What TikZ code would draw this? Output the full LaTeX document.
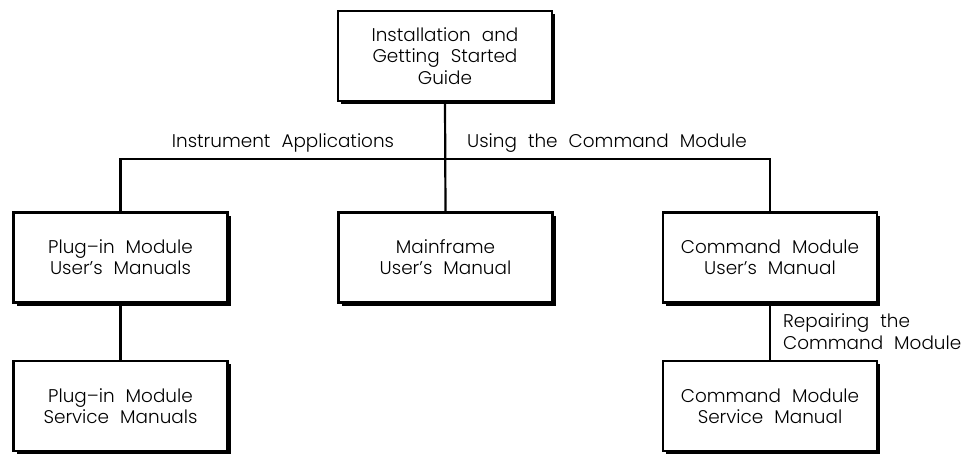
\documentclass[tikz,border=0pt]{standalone}
\usepackage{fontspec}
\setmainfont{Poppins}[UprightFont=* Light]
\usetikzlibrary{shadows}

\newcommand\docfont{\fontsize{9.2}{10.6}\selectfont\spaceskip=0.6em plus 0.1em\relax}

\tikzset{
  manual/.style={draw,fill=white,line width=1.3pt,align=center,
    minimum width=107pt,minimum height=45pt,inner sep=0pt,
    drop shadow={shadow xshift=1.6pt,shadow yshift=-1.6pt,fill=black,opacity=1}},
  wire/.style={line width=1.1pt},
  lbl/.style={inner sep=0pt,align=left}
}

\begin{document}
\begin{tikzpicture}[x=0.5pt,y=-0.5pt,font=\docfont]
  \useasboundingbox (0,0) rectangle (969,455);

  % ===== TOP =====
  \node[manual] (guide) at (445,56) {Installation and\\Getting Started\\Guide};

  % ===== USER MANUALS =====
  \node[manual] (plugusr) at (120.5,257.5) {Plug--in Module\\User's Manuals};
  \node[manual] (mainfr)  at (445.5,257.5) {Mainframe\\User's Manual};
  \node[manual] (cmdusr)  at (770,257.5)   {Command Module\\User's Manual};

  % ===== SERVICE MANUALS =====
  \node[manual] (plugsvc) at (120.5,406) {Plug--in Module\\Service Manuals};
  \node[manual] (cmdsvc)  at (770,406)   {Command Module\\Service Manual};

  % bus under the guide
  \coordinate (bus) at (445.5,159);
  \draw[wire] (guide.south) -- (mainfr.north);
  \draw[wire] (plugusr.north) -- (plugusr.north |- bus)
              -- (cmdusr.north |- bus) -- (cmdusr.north);
  \node[lbl,anchor=base] (instapp) at (283,147) {Instrument Applications};
  \node[lbl,anchor=base] (usingcm) at (607,147) {Using the Command Module};

  % service branches
  \draw[wire] (plugusr.south) -- (plugsvc.north);
  \draw[wire] (cmdusr.south) -- (cmdsvc.north)
        node[lbl,midway,right,xshift=6pt] (repair) {Repairing the\\Command Module};

\end{tikzpicture}
\end{document}
